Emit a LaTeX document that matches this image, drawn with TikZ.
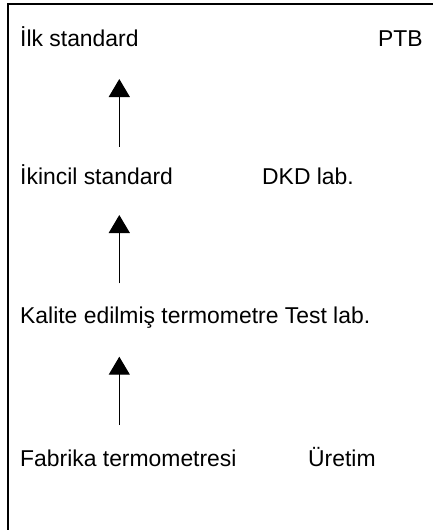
\documentclass[tikz,border=0pt]{standalone}
\usepackage{fontspec}
\setmainfont{Liberation Sans}
\usetikzlibrary{calc,arrows.meta}
\tikzset{>={Triangle[width=21pt,length=18pt]}}
\tikzset{
  lbl/.style={anchor=base west,inner sep=0pt,font=\fontsize{22.9}{27}\selectfont},
  uparrow/.style={->,line width=1.3pt}
}

\begin{document}
\begin{tikzpicture}[x=1pt,y=1pt]
      \useasboundingbox (0,0) rectangle (433,-530);
      \draw[line width=2pt] (433,-4) -| (8,-530);
      \coordinate (ax) at (119.3,0);
      \node[lbl] (ilk) at (20,-46.7) {İlk standard};
      \node[lbl] (ptb) at (378,-46.7) {PTB};
      \node[lbl] (ikincil) at (20,-184.3) {İkincil standard};
      \node[lbl] (dkd) at (262,-184.3) {DKD lab.};
      \node[lbl] (kalite) at (20,-323) {Kalite edilmiş termometre Test lab.};
      \node[lbl] (fabrika) at (20,-466.7) {Fabrika termometresi};
      \node[lbl] (uretim) at (308,-466.7) {Üretim};
      \draw[uparrow] ($(ikincil.base -| ax)+(0,37.6)$) -- ($(ilk.base -| ax)+(0,-32.3)$);
      \draw[uparrow] ($(kalite.base -| ax)+(0,39.7)$) -- ($(ikincil.base -| ax)+(0,-30.7)$);
      \draw[uparrow] ($(fabrika.base -| ax)+(0,41.7)$) -- ($(kalite.base -| ax)+(0,-33.7)$);
    \end{tikzpicture}
\end{document}
